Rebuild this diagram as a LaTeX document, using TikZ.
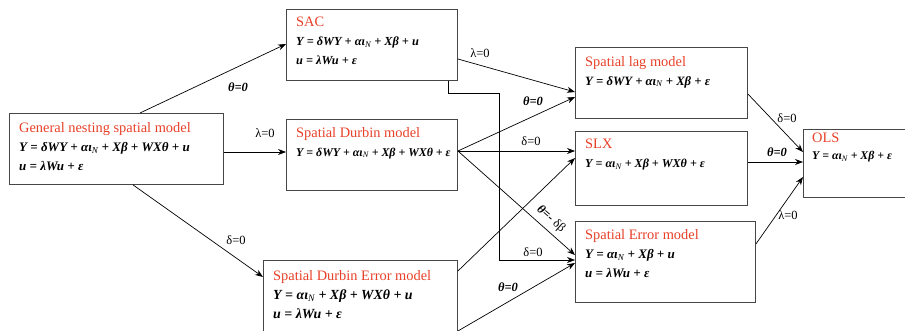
\documentclass[tikz,border=0pt]{standalone}
\usepackage{fontspec}
\setmainfont{Liberation Serif}
\usetikzlibrary{calc, positioning}
\usetikzlibrary{arrows.meta}

\definecolor{titlered}{RGB}{232,64,40}
\definecolor{boxgray}{RGB}{70,70,70}

\tikzset{
  model/.style={draw=boxgray, line width=0.9pt, anchor=north west, inner sep=0pt},
  modeltxt/.style={anchor=north west, inner sep=0pt, align=left, font=\fontsize{#1}{19}\selectfont},
  modeltxt/.default=13,
  link/.style={line width=0.7pt, -{Stealth[length=8pt,width=6pt]}},
  cond/.style={font=\fontsize{12.5}{14}\selectfont, inner sep=1pt}
}
\newcommand{\mtitle}[1]{{\fontsize{14.4}{19}\selectfont\color{titlered}#1}}
\newcommand{\meq}[1]{{\bfseries\itshape #1}}
\newcommand{\iN}{\textsubscript{\mdseries N}}

\begin{document}
\begin{tikzpicture}[x=1pt, y=-1pt]
\useasboundingbox (0,0) rectangle (905,331);

% model boxes
\node[model, minimum width=214, minimum height=71] (gns) at (9,113) {};
\node[model, minimum width=171, minimum height=71] (sac) at (286,9) {};
\node[model, minimum width=171, minimum height=71] (sdm) at (286,119) {};
\node[model, minimum width=194, minimum height=80] (sdem) at (263,260) {};
\node[model, minimum width=172, minimum height=71] (lag) at (575,47) {};
\node[model, minimum width=172, minimum height=74] (slx) at (575,131) {};
\node[model, minimum width=180, minimum height=81] (sem) at (575,221) {};
\node[model, minimum width=105, minimum height=68] (ols) at (803,129) {};

% box contents
\node[modeltxt] (gnstxt) at ($(gns.north west)+(10,9)$)
  {\mtitle{General nesting spatial model}\\ \meq{Y = δWY + αι\iN{} + Xβ + WXθ + u}\\ \meq{u = λWu + ε}};
\node[modeltxt=12.3] (sactxt) at ($(sac.north west)+(10,8)$)
  {\mtitle{SAC}\\ \meq{Y = δWY + αι\iN{} + Xβ + u}\\ \meq{u = λWu + ε}};
\node[modeltxt=11.9] (sdmtxt) at ($(sdm.north west)+(10,8)$)
  {\mtitle{Spatial Durbin model}\\ \meq{Y = δWY + αι\iN{} + Xβ + WXθ + ε}};
\node[modeltxt=13.9] (sdemtxt) at ($(sdem.north west)+(10,10)$)
  {\mtitle{Spatial Durbin Error model}\\ \meq{Y = αι\iN{} + Xβ + WXθ + u}\\ \meq{u = λWu + ε}};
\node[modeltxt=12.7] (lagtxt) at ($(lag.north west)+(10,9)$)
  {\mtitle{Spatial lag model}\\ \meq{Y = δWY + αι\iN{} + Xβ + ε}};
\node[modeltxt=12.1] (slxtxt) at ($(slx.north west)+(10,8)$)
  {\mtitle{SLX}\\ \meq{Y = αι\iN{} + Xβ + WXθ + ε}};
\node[modeltxt] (semtxt) at ($(sem.north west)+(10,8)$)
  {\mtitle{Spatial Error model}\\ \meq{Y = αι\iN{} + Xβ + u}\\ \meq{u = λWu + ε}};
\node[modeltxt=11.8] (olstxt) at ($(ols.north west)+(9,4)$)
  {\mtitle{OLS}\\[-2pt] \meq{Y = αι\iN{} + Xβ + ε}};

% restrictions
\draw[link] ($(gns.north west)+(131,0)$) -- ($(sac.north west)+(0,35)$);
\draw[link] ($(gns.north east)+(0,39)$) -- ($(sdm.north west)+(0,33)$);
\draw[link] ($(gns.south west)+(124,0)$) -- ($(sdem.north west)+(0,17)$);
\draw[link] ($(sac.north east)+(0,50)$) -- ($(lag.north west)+(0,45)$);
\draw[link] ($(sac.south west)+(162,0)$) -- ++(0,12) -| ($(sem.north west)+(-76,39)$) -- ($(sem.north west)+(0,39)$);
\draw[link] ($(sdm.north east)+(0,32)$) -- ($(lag.north west)+(0,50)$);
\draw[link] ($(sdm.north east)+(0,32)$) -- ($(slx.north west)+(0,20)$);
\draw[link] ($(sdm.north east)+(0,32)$) -- ($(sem.north west)+(0,34)$);
\draw[link] ($(sdem.north east)+(0,11)$) -- ($(slx.north west)+(0,27)$);
\draw[link] ($(sdem.north east)+(0,71)$) -- ($(sem.north west)+(0,42)$);
\draw[link] ($(lag.north east)+(0,47)$) -- ($(ols.north west)+(0,23)$);
\draw[link] ($(slx.north east)+(0,31)$) -- ($(ols.north west)+(0,33)$);
\draw[link] ($(sem.north east)+(0,23)$) -- ($(ols.north west)+(0,48)$);

\node[cond] (c1) at (238,87) {\meq{θ=0}};
\node[cond] (c2) at (265,133) {λ=0};
\node[cond] (c3) at (236,240) {δ=0};
\node[cond] (c4) at (480,53) {λ=0};
\node[cond] (c5) at (533,101) {\meq{θ=0}};
\node[cond] (c6) at (531,141) {δ=0};
\node[cond, rotate=-41] (c7) at (551,219) {\meq{θ=-} δβ};
\node[cond] (c8) at (533,252) {δ=0};
\node[cond] (c9) at (508,287) {\meq{θ=0}};
\node[cond] (c10) at (787,118) {δ=0};
\node[cond] (c11) at (777,152) {\meq{θ=0}};
\node[cond] (c12) at (788,215) {λ=0};
\end{tikzpicture}
\end{document}
